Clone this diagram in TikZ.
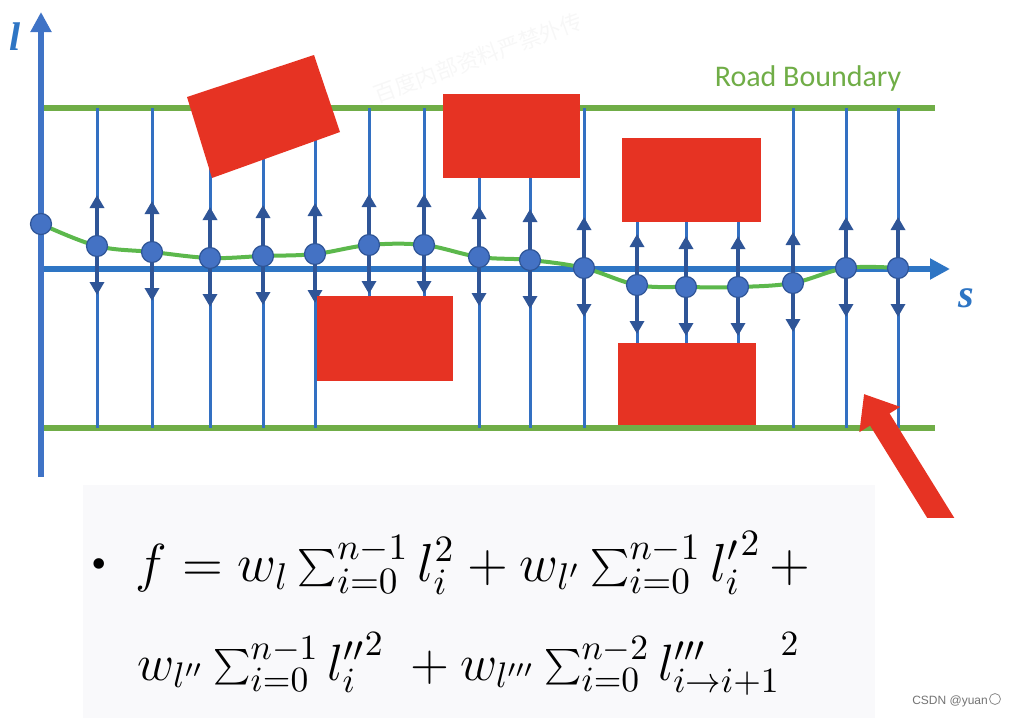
\documentclass[tikz,border=0pt]{standalone}
\usepackage{fontspec}
\setmainfont{Liberation Serif}
\newfontfamily\carl{Carlito}
\newfontfamily\cjk{Noto Sans CJK SC}
\newfontfamily\lsans{Liberation Sans}
\usetikzlibrary{arrows.meta}
\definecolor{rgreen}{HTML}{70AD47}
\definecolor{cgreen}{HTML}{5CB84C}
\definecolor{axblue}{HTML}{3F73C6}
\definecolor{sblue}{HTML}{2E75C4}
\definecolor{tblue}{HTML}{3370C2}
\definecolor{dblue}{HTML}{2F5597}
\definecolor{dotblue}{HTML}{4472C4}
\definecolor{obred}{HTML}{E63323}
\definecolor{panel}{HTML}{F9F9FB}
\tikzset{
  boundary/.style={rgreen, line width=6},
  thinline/.style={tblue, line width=3},
  axisline/.style={line width=6, -{Triangle[width=20,length=20]}},
  darr/.style={dblue, line width=4.5, -{Triangle[width=14,length=13]}},
  pdot/.style={circle, fill=dotblue, draw=dblue, line width=1.2, minimum size=21, inner sep=0},
  obst/.style={fill=obred, draw=none},
  lbl/.style={font=\fontsize{40}{40}\selectfont\bfseries\itshape, text=sblue, inner sep=0},
}
\begin{document}
\begin{tikzpicture}[x=1pt,y=-1pt]
\useasboundingbox (0,0) rectangle (1013,718);
% watermark
\node[text=black!3, rotate=20, font=\cjk\fontsize{22}{22}\selectfont, inner sep=0] (wm) at (478,58) {百度内部资料严禁外传};
% road boundaries
\draw[boundary] (41,108) -- (935,108);
\draw[boundary] (41,428) -- (935,428);
\node[font=\carl\fontsize{30}{30}\selectfont, text=rgreen, anchor=base] (rb) at (808,86) {Road Boundary};
% thin lattice lines
\foreach \x/\t/\b in {97/108/428,152/108/428,210/150/428,263/140/428,315/125/428,369/108/310,424/108/310,479/160/428,530/160/428,584/108/428,637/210/355,686/210/355,738/210/355,793/108/428,846/108/428,898/108/428}
  \draw[thinline] (\x,\t) -- (\x,\b);
% axes
\coordinate (o) at (41,477);
\coordinate (ltip) at (41,12);
\coordinate (s0) at (41,269);
\coordinate (stip) at (950,269);
\draw[axisline, sblue] (s0) -- (stip);
\draw[axisline, axblue] (o) -- (ltip);
\node[lbl, anchor=base] (lab) at (15,50) {l};
\node[lbl, anchor=base] (sab) at (966,307) {s};
% reference line
\draw[cgreen, line width=4] plot[smooth, tension=0.6] coordinates {(41,224) (97,246) (152,252) (210,258) (263,256) (315,254) (369,245) (424,245) (479,257) (530,260) (584,268) (637,285) (686,287) (738,287) (793,283) (846,268) (898,268)};
% arrows and dots
\foreach \x/\y [count=\i] in {97/246,152/252,210/258,263/256,315/254,369/245,424/245,479/257,530/260,584/268,637/285,686/287,738/287,793/283,846/268,898/268}{
  \coordinate (c\i) at (\x,\y);
  \draw[darr] (c\i) -- ++(0,-51);
  \draw[darr] (c\i) -- ++(0,49);
}
\node[pdot] (p0) at (41,224) {};
\foreach \x/\y [count=\i] in {97/246,152/252,210/258,263/256,315/254,369/245,424/245,479/257,530/260,584/268,637/285,686/287,738/287,793/283,846/268,898/268}
  \node[pdot] (p\i) at (\x,\y) {};
% obstacles
\fill[obst] (187,97) -- (314,55) -- (340,132) -- (212,178) -- cycle;
\fill[obst] (443,94) rectangle (580,178);
\fill[obst] (622,138) rectangle (761,222);
\fill[obst] (317,296) rectangle (453,381);
\fill[obst] (618,343) rectangle (756,425);
% red pointer arrow
\coordinate (rtip) at (864,394);
\coordinate (rtail) at (947,528);
\begin{scope}
\clip (0,0) rectangle (1013,517);
\draw[obred, line width=23, -{Triangle[width=46,length=30]}] (rtail) -- (rtip);
\end{scope}
% formula panel
\fill[panel] (83,485) rectangle (875,718);
\node[anchor=base west, font=\fontsize{44}{44}\selectfont] (bul) at (88,578) {\textbullet};
\node[anchor=base west, scale=3.72, inner sep=0] (f1) at (135,581) {\Large$f = w_l \sum_{i=0}^{n-1} l_i^2 + w_{l'} \sum_{i=0}^{n-1} {l'_i}^2 \,+$};
\node[anchor=base west, scale=3.55, inner sep=0] (f2) at (137,680) {\Large$w_{l''} \sum_{i=0}^{n-1} {l''_i}^2 \; + w_{l'''} \sum_{i=0}^{n-2} {l'''_{i\to i+1}}^2$};
% credit
\node[anchor=base east, font=\lsans\fontsize{12}{12}\selectfont, text=black!55, inner sep=0] (cr) at (988,704) {CSDN @yuan};
\draw[black!45, line width=0.8] (cr.base east) ++(7,-5) circle (5.5);
\end{tikzpicture}
\end{document}
